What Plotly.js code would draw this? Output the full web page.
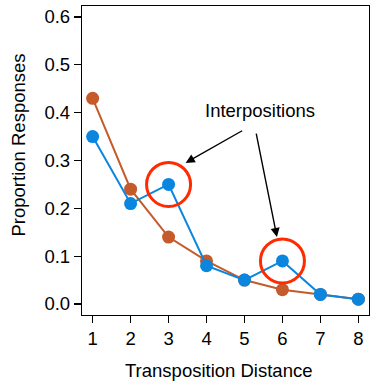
<!DOCTYPE html>
<html>
<head>
<meta charset="utf-8">
<script src="https://cdn.plot.ly/plotly-3.0.1.min.js"></script>
<style>
  html, body { margin: 0; padding: 0; background: #fff; }
  #chart { width: 373px; height: 382px; }
</style>
</head>
<body>
<div id="chart"></div>
<script>
// Transposition distance (lag) and proportion of responses
const distance = [1, 2, 3, 4, 5, 6, 7, 8];
const baseline = [0.43, 0.24, 0.14, 0.09, 0.05, 0.03, 0.02, 0.01];
const observed = [0.35, 0.21, 0.25, 0.08, 0.05, 0.09, 0.02, 0.01];
const yTicks = [0, 0.1, 0.2, 0.3, 0.4, 0.5, 0.6];
const yTickText = ['0.0', '0.1', '0.2', '0.3', '0.4', '0.5', '0.6'];
// distances where an interposition bump is highlighted
const highlighted = [3, 6];

const FONT = 'Liberation Sans, Arial, Helvetica, sans-serif';
const FS = 18.5;
const ORANGE = '#c55a2a';
const BLUE = '#0a86df';

const traces = [
  {
    x: distance, y: baseline, type: 'scatter', mode: 'lines+markers',
    line: { color: ORANGE, width: 2 },
    marker: { color: ORANGE, size: 13 },
    hoverinfo: 'x+y'
  },
  {
    x: distance, y: observed, type: 'scatter', mode: 'lines+markers',
    line: { color: BLUE, width: 2 },
    marker: { color: BLUE, size: 13 },
    hoverinfo: 'x+y'
  }
];

// red rings centred on the highlighted points, sized in pixels
const rings = highlighted.map(d => ({
  type: 'circle', xref: 'x', yref: 'y',
  xsizemode: 'pixel', ysizemode: 'pixel',
  xanchor: d, yanchor: observed[distance.indexOf(d)],
  x0: -22, x1: 22, y0: -22, y1: 22,
  line: { color: '#ff2a00', width: 3 },
  fillcolor: 'rgba(0,0,0,0)'
}));

const layout = {
  width: 373, height: 382,
  margin: { l: 82, r: 4, t: 6, b: 67 },
  paper_bgcolor: '#fff', plot_bgcolor: '#fff',
  showlegend: false,
  font: { family: FONT, size: FS, color: '#000' },
  xaxis: {
    range: [0.72, 8.28],
    tickvals: distance,
    ticks: 'outside', ticklen: 7, tickwidth: 1.2, tickcolor: '#000',
    showline: true, linecolor: '#000', linewidth: 1.2, mirror: true,
    showgrid: false, zeroline: false,
    tickfont: { family: FONT, size: FS }
  },
  yaxis: {
    range: [-0.023, 0.623],
    tickvals: yTicks, ticktext: yTickText,
    ticks: 'outside', ticklen: 7, tickwidth: 1.2, tickcolor: '#000',
    showline: true, linecolor: '#000', linewidth: 1.2, mirror: true,
    showgrid: false, zeroline: false,
    tickfont: { family: FONT, size: FS }
  },
  shapes: rings,
  annotations: [
    {
      text: 'Transposition Distance', xref: 'paper', yref: 'paper',
      x: 0.474, y: 0, xanchor: 'center', yanchor: 'middle',
      showarrow: false, font: { family: FONT, size: FS },
      yshift: -55
    },
    {
      text: 'Proportion Responses', xref: 'paper', yref: 'paper',
      x: 0, y: 0.5, textangle: -90, xanchor: 'center', yanchor: 'middle',
      showarrow: false, font: { family: FONT, size: FS },
      xshift: -64, yshift: 15
    },
    {
      text: 'Interpositions', xref: 'x', yref: 'y',
      x: 5.4, y: 0.405, xanchor: 'center', yanchor: 'middle',
      showarrow: false, font: { family: FONT, size: FS }
    },
    {
      text: '', xref: 'x', yref: 'y', x: 3.45, y: 0.295,
      showarrow: true, arrowhead: 2, arrowsize: 1.3, arrowwidth: 1.4,
      arrowcolor: '#000', ax: 58, ay: -33, standoff: 0
    },
    {
      text: '', xref: 'x', yref: 'y', x: 5.855, y: 0.14,
      showarrow: true, arrowhead: 2, arrowsize: 1.3, arrowwidth: 1.4,
      arrowcolor: '#000', ax: -21, ay: -105, standoff: 0
    }
  ]
};

Plotly.newPlot('chart', traces, layout, { displayModeBar: false, staticPlot: true });
</script>
</body>
</html>
